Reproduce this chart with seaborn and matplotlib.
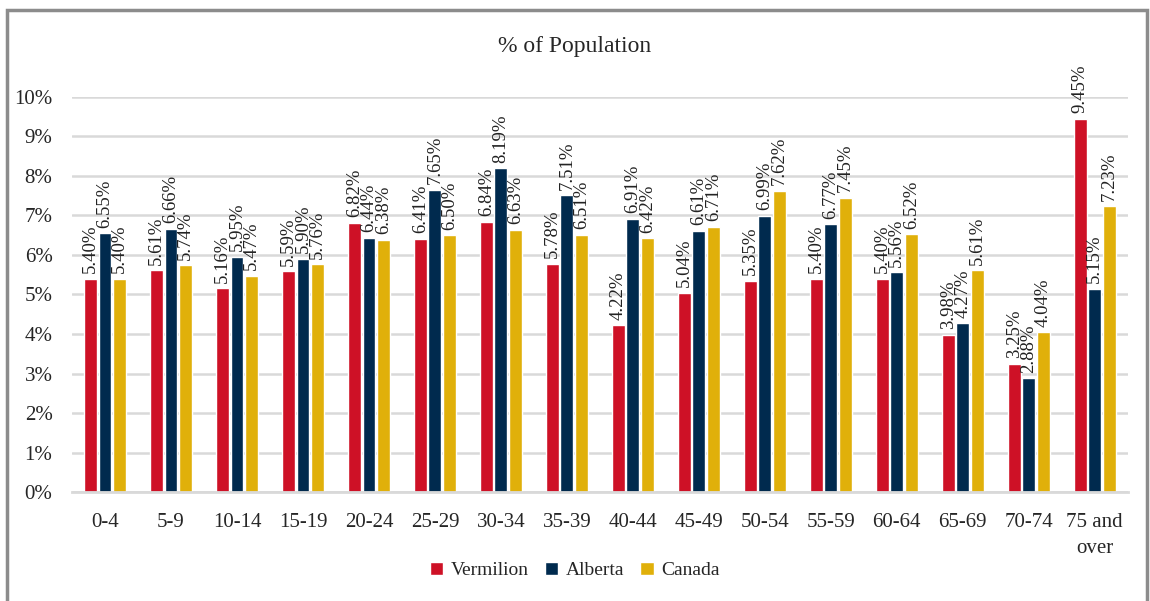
import pandas as pd
import matplotlib.pyplot as plt
import seaborn as sns
from matplotlib.patches import Rectangle
from matplotlib.ticker import FuncFormatter

# age groups and share of population (%)
age_groups = ["0-4", "5-9", "10-14", "15-19", "20-24", "25-29", "30-34", "35-39",
              "40-44", "45-49", "50-54", "55-59", "60-64", "65-69", "70-74", "75 and\nover"]
vermilion = [5.40, 5.61, 5.16, 5.59, 6.82, 6.41, 6.84, 5.78, 4.22, 5.04, 5.35, 5.40, 5.40, 3.98, 3.25, 9.45]
alberta = [6.55, 6.66, 5.95, 5.90, 6.44, 7.65, 8.19, 7.51, 6.91, 6.61, 6.99, 6.77, 5.56, 4.27, 2.88, 5.15]
canada = [5.40, 5.74, 5.47, 5.76, 6.38, 6.50, 6.63, 6.51, 6.42, 6.71, 7.62, 7.45, 6.52, 5.61, 4.04, 7.23]
regions = ["Vermilion", "Alberta", "Canada"]
colors = ["#CE1126", "#002A4E", "#E0B00A"]

df = pd.DataFrame({
    "Age": age_groups * 3,
    "Region": [r for r in regions for _ in age_groups],
    "Share": vermilion + alberta + canada,
})

sns.set_style("white")
plt.rcParams['font.family'] = ['Liberation Serif', 'DejaVu Serif']

fig = plt.figure(figsize=(11.5, 6.01), dpi=100)
ax = fig.add_axes([0.0626, 0.181, 0.918, 0.658])

sns.barplot(data=df, x="Age", y="Share", hue="Region", palette=colors,
            width=0.66, gap=0.12, ax=ax, legend=True, saturation=1)

for cont in ax.containers:
    ax.bar_label(cont, labels=[f"{v:.2f}%" for v in cont.datavalues],
                 rotation=90, padding=4, fontsize=13.5, color="#222222")

ax.set_ylim(0, 10)
ax.set_yticks(range(0, 11))
ax.yaxis.set_major_formatter(FuncFormatter(lambda v, p: f"{int(v)}%"))
ax.grid(axis="y", color="#D9D9D9", lw=1.8)
ax.set_axisbelow(True)
for s in ["top", "right", "left"]:
    ax.spines[s].set_visible(False)
ax.spines["bottom"].set_color("#D9D9D9")
ax.spines["bottom"].set_linewidth(2)
ax.tick_params(axis="x", length=0, pad=15, labelsize=15)
ax.tick_params(axis="y", length=0, pad=14, labelsize=15)
for t in ax.get_xticklabels():
    t.set_linespacing(1.5)
ax.set_xlabel("")
ax.set_ylabel("")

ax.legend(loc="center", bbox_to_anchor=(0.5, 0.051), bbox_transform=fig.transFigure,
          ncol=3, frameon=False, fontsize=14, handlelength=0.7, handleheight=0.7,
          handletextpad=0.4, columnspacing=0.8)

fig.text(0.5, 0.922, "% of Population", ha="center", va="center", fontsize=17)
fig.patches.append(Rectangle((0.006, -0.01), 0.991, 0.993, transform=fig.transFigure,
                             fill=False, edgecolor="#8C8C8C", lw=2.5))

fig.savefig("out.png", dpi=100)
